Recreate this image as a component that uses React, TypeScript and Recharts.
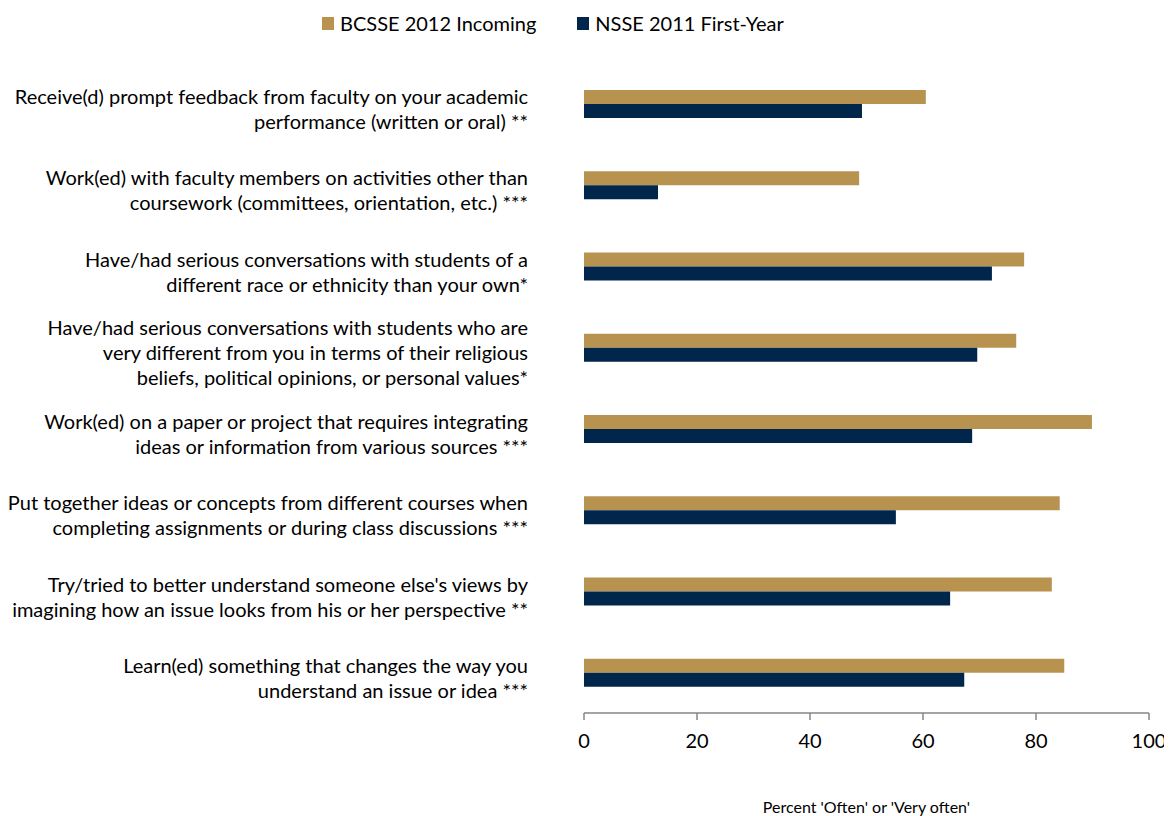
import React from 'react'
import { BarChart, Bar, XAxis, YAxis } from 'recharts'

const itemLines = [
  ['Receive(d) prompt feedback from faculty on your academic', 'performance (written or oral) **'],
  ['Work(ed) with faculty members on activities other than', 'coursework (committees, orientation, etc.) ***'],
  ['Have/had serious conversations with students of a', 'different race or ethnicity than your own*'],
  ['Have/had serious conversations with students who are', 'very different from you in terms of their religious', 'beliefs, political opinions, or personal values*'],
  ['Work(ed) on a paper or project that requires integrating', 'ideas or information from various sources ***'],
  ['Put together ideas or concepts from different courses when', 'completing assignments or during class discussions ***'],
  ["Try/tried to better understand someone else's views by", 'imagining how an issue looks from his or her perspective **'],
  ['Learn(ed) something that changes the way you', 'understand an issue or idea ***'],
]
const bcsse2012 = [60.5, 48.7, 77.9, 76.5, 89.9, 84.2, 82.8, 85.0]
const nsse2011 = [49.2, 13.1, 72.2, 69.6, 68.7, 55.2, 64.8, 67.3]
const xTicks = [0, 20, 40, 60, 80, 100]

const seriesNames = ['BCSSE 2012 Incoming', 'NSSE 2011 First-Year']
const GOLD = '#b8934f'
const NAVY = '#00264c'
const FONT = 'Lato, "Open Sans", sans-serif'

const data = itemLines.map((lines, i) => ({
  item: lines.join(' '),
  bcsse: bcsse2012[i],
  nsse: nsse2011[i],
}))

const ItemTick = (props: any) => {
  const { x, y, payload } = props
  const lines = itemLines[payload.index] || [payload.value]
  const lh = 25
  const start = y + 6 - ((lines.length - 1) * lh) / 2
  return (
    <text x={x - 48} y={start} textAnchor="end" fontSize={20} fill="#000" fontFamily={FONT}>
      {lines.map((l: string, k: number) => (
        <tspan key={k} x={x - 48} y={start + k * lh} dy="0.35em">
          {l}
        </tspan>
      ))}
    </text>
  )
}

const App: React.FC = () => (
  <div style={{ position: 'relative', width: 1164, height: 808, fontFamily: FONT }}>
    <div
      style={{
        position: 'absolute',
        top: 3,
        left: 314,
        display: 'flex',
        alignItems: 'center',
        fontSize: 20,
        color: '#000',
        zIndex: 2,
      }}
    >
      {seriesNames.map((name, i) => (
        <div key={name} style={{ display: 'flex', alignItems: 'center', marginRight: 41 }}>
          <span style={{ width: 12, height: 13, background: i === 0 ? GOLD : NAVY, marginRight: 6 }} />
          <span>{name}</span>
        </div>
      ))}
    </div>
    <BarChart
      width={1164}
      height={808}
      layout="vertical"
      data={data}
      margin={{ top: 55, right: 23, bottom: 0, left: 0 }}
      barGap={0}
      barSize={14}
    >
      <XAxis
        type="number"
        domain={[0, 100]}
        ticks={xTicks}
        height={103}
        axisLine={{ stroke: '#868686', strokeWidth: 1.5 }}
        tickLine={{ stroke: '#868686', strokeWidth: 1.5 }}
        tickSize={7}
        tickMargin={14}
        tick={{ fill: '#000', fontSize: 20 }}
        label={{ value: "Percent 'Often' or 'Very often'", position: 'insideBottom', offset: 3, fontSize: 16, fill: '#000' }}
      />
      <YAxis type="category" dataKey="item" width={576} axisLine={false} tickLine={false} tick={<ItemTick />} interval={0} />
      <Bar dataKey="bcsse" name={seriesNames[0]} fill={GOLD} isAnimationActive={false} />
      <Bar dataKey="nsse" name={seriesNames[1]} fill={NAVY} isAnimationActive={false} />
    </BarChart>
  </div>
)

export default App
